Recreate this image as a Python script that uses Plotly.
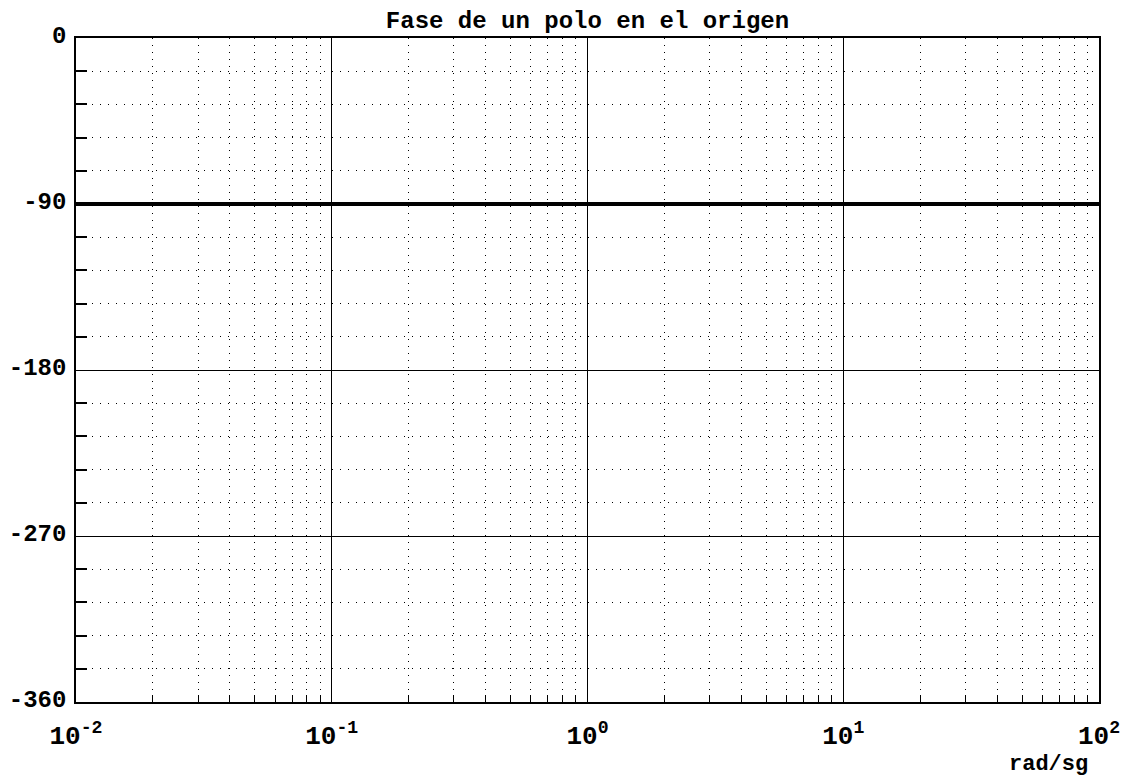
import plotly.graph_objects as go

# Phase of a pole at the origin: constant -90 degrees across all frequencies
omega = [0.01, 0.1, 1, 10, 100]
phase = [-90, -90, -90, -90, -90]

decade_vals = [0.01, 0.1, 1, 10, 100]
decade_text = ["10<sup>-2</sup>", "10<sup>-1</sup>", "10<sup>0</sup>",
               "10<sup>1</sup>", "10<sup>2</sup>"]
minor_x = [m * d for d in [0.01, 0.1, 1, 10] for m in range(2, 10)]

phase_vals = [0, -90, -180, -270, -360]
phase_text = ["0", "-90", "-180", "-270", "-360"]
minor_y = [v for v in range(0, -361, -18) if v % 90 != 0]

FONT = "Liberation Mono"

fig = go.Figure()
fig.add_trace(go.Scatter(
    x=omega, y=phase, mode="lines",
    line=dict(color="black", width=4),
    showlegend=False, hoverinfo="skip",
))

fig.update_layout(
    width=1122, height=780,
    margin=dict(l=76, r=23, t=38, b=78),
    paper_bgcolor="white", plot_bgcolor="white",
    title=dict(text="<b>Fase de un polo en el origen</b>",
               x=0.5, xanchor="center", xref="paper",
               y=1, yref="container", yanchor="top", pad=dict(t=11),
               font=dict(family=FONT, size=24, color="black")),
    xaxis=dict(
        type="log", range=[-2, 2], automargin=False,
        tickmode="array", tickvals=decade_vals, ticktext=decade_text,
        ticks="", showgrid=True, gridcolor="black", gridwidth=1.3,
        showline=True, linecolor="black", linewidth=1.6, mirror=True,
        tickfont=dict(family=FONT, size=26, color="black", weight="bold"),
        ticklabelstandoff=9,
        zeroline=False,
        minor=dict(tickmode="array", tickvals=minor_x,
                   showgrid=True, gridcolor="black", gridwidth=1.2,
                   griddash="1px,6px",
                   ticks="inside", ticklen=7, tickcolor="black", tickwidth=1),
    ),
    yaxis=dict(
        range=[-360, 0], automargin=False,
        tickmode="array", tickvals=phase_vals, ticktext=phase_text,
        ticks="", showgrid=True, gridcolor="black", gridwidth=1.3,
        showline=True, linecolor="black", linewidth=1.6, mirror=True,
        tickfont=dict(family=FONT, size=24, color="black", weight="bold"),
        ticklabelstandoff=3, ticklabelshift=-3,
        zeroline=False,
        minor=dict(tickmode="array", tickvals=minor_y,
                   showgrid=True, gridcolor="black", gridwidth=1.2,
                   griddash="1px,7px",
                   ticks="inside", ticklen=11, tickcolor="black", tickwidth=1.5),
    ),
    annotations=[dict(
        text="<b>rad/sg</b>", xref="paper", yref="paper",
        x=0.991, y=-0.072, xanchor="right", yanchor="top", showarrow=False,
        font=dict(family=FONT, size=22, color="black"),
    )],
)

fig.write_html("out.html")
